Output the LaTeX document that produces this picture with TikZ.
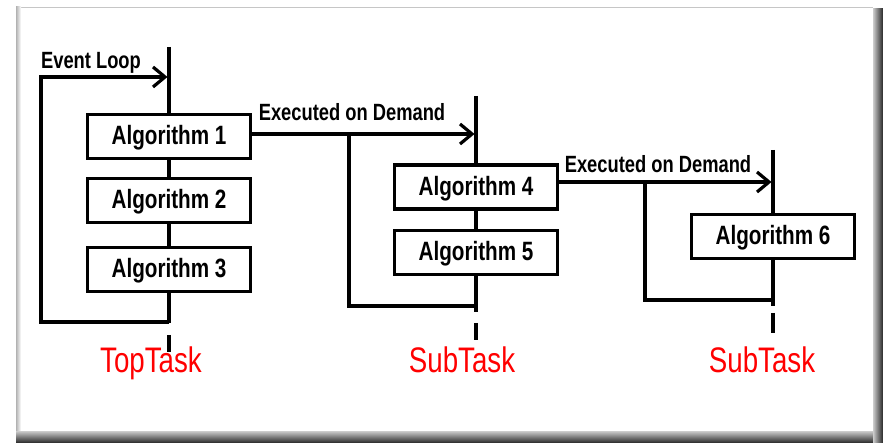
\documentclass[tikz,border=0pt]{standalone}
\usepackage{fontspec}
\setmainfont{Liberation Sans}[FakeStretch=0.78]
\usetikzlibrary{arrows.meta}
\begin{document}
\begin{tikzpicture}[x=1pt,y=-1pt,
  ln/.style={line width=3.2pt, line join=miter},
  algbox/.style={draw, line width=3.2pt, fill=white, minimum width=163pt, minimum height=44pt, inner sep=0pt, text height=17pt, text depth=0pt, font=\fontsize{26.5}{30}\selectfont\bfseries},
  lbl/.style={font=\fontsize{23.5}{28}\selectfont\bfseries, anchor=base, inner sep=0pt},
  task/.style={font=\fontsize{35.5}{40}\selectfont, text=red, anchor=base, inner sep=0pt},
  arr/.style={ln, -{Straight Barb[length=12pt,width=20pt]}}
]
\useasboundingbox (0,0) rectangle (883,443);
\fill[white] (0,0) rectangle (883,443);
% frame
\draw[gray!45, line width=1pt] (16,7.5) -- (873,7.5);
\shade[left color=gray!60, right color=white] (16,7) rectangle (21,432);
\shade[top color=gray!40, bottom color=black!85] (16,431) rectangle (883,443);
\shade[left color=gray!40, right color=black!85] (873,9) rectangle (883,443);

% boxes
\node[algbox] (a1) at (169,136.5) {Algorithm 1};
\node[algbox] (a2) at (169,200.5) {Algorithm 2};
\node[algbox] (a3) at (169,269.5) {Algorithm 3};
\node[algbox] (a4) at (476,187) {Algorithm 4};
\node[algbox] (a5) at (476,252.5) {Algorithm 5};
\node[algbox] (a6) at (773,236.5) {Algorithm 6};

% coordinates
\coordinate (t1top) at (169,47);
\coordinate (t1bot) at (169,323.5);
\coordinate (t1j) at (169,322);
\coordinate (l1) at (41,322);
\coordinate (l2) at (41,77);
\coordinate (l3) at (167.5,77);
\coordinate (t1d1) at (169,335);
\coordinate (t1d2) at (169,352);

\coordinate (e1) at (474.5,134);
\coordinate (b1top) at (349,134);
\coordinate (b1bot) at (349,306);
\coordinate (t2j) at (476,306);
\coordinate (t2top) at (476,96);
\coordinate (t2bot) at (476,312);
\coordinate (t2d1) at (476,323);
\coordinate (t2d2) at (476,340);

\coordinate (e2) at (771.5,182);
\coordinate (b2top) at (645,182);
\coordinate (b2bot) at (645,300);
\coordinate (t3j) at (773,300);
\coordinate (t3top) at (773,150);
\coordinate (t3bot) at (773,306);
\coordinate (t3d1) at (773,313);
\coordinate (t3d2) at (773,333);

% TopTask
\draw[ln] (t1top) -- (a1.north);
\draw[ln] (a1.south) -- (a2.north);
\draw[ln] (a2.south) -- (a3.north);
\draw[ln] (a3.south) -- (t1bot);
\draw[arr] (t1j) -- (l1) -- (l2) -- (l3);

% SubTask 1
\draw[arr] (a1.east |- e1) -- (e1);
\draw[ln] (b1top) -- (b1bot) -- (t2j);
\draw[ln] (t2top) -- (a4.north);
\draw[ln] (a4.south) -- (a5.north);
\draw[ln] (a5.south) -- (t2bot);

% SubTask 2
\draw[arr] (a4.east |- e2) -- (e2);
\draw[ln] (b2top) -- (b2bot) -- (t3j);
\draw[ln] (t3top) -- (a6.north);
\draw[ln] (a6.south) -- (t3bot);

% labels
\node[lbl] (ev) at (91,69) {Event Loop};
\node[lbl] (ex1) at (352,121) {Executed on Demand};
\node[lbl] (ex2) at (658,173) {Executed on Demand};
\node[task] (tt) at (151,373) {TopTask};
\node[task] (st1) at (462,373) {SubTask};
\node[task] (st2) at (762,373) {SubTask};

% continuation stubs
\draw[ln] (t1d1) -- (t1d2);
\draw[ln] (t2d1) -- (t2d2);
\draw[ln] (t3d1) -- (t3d2);
\end{tikzpicture}
\end{document}
